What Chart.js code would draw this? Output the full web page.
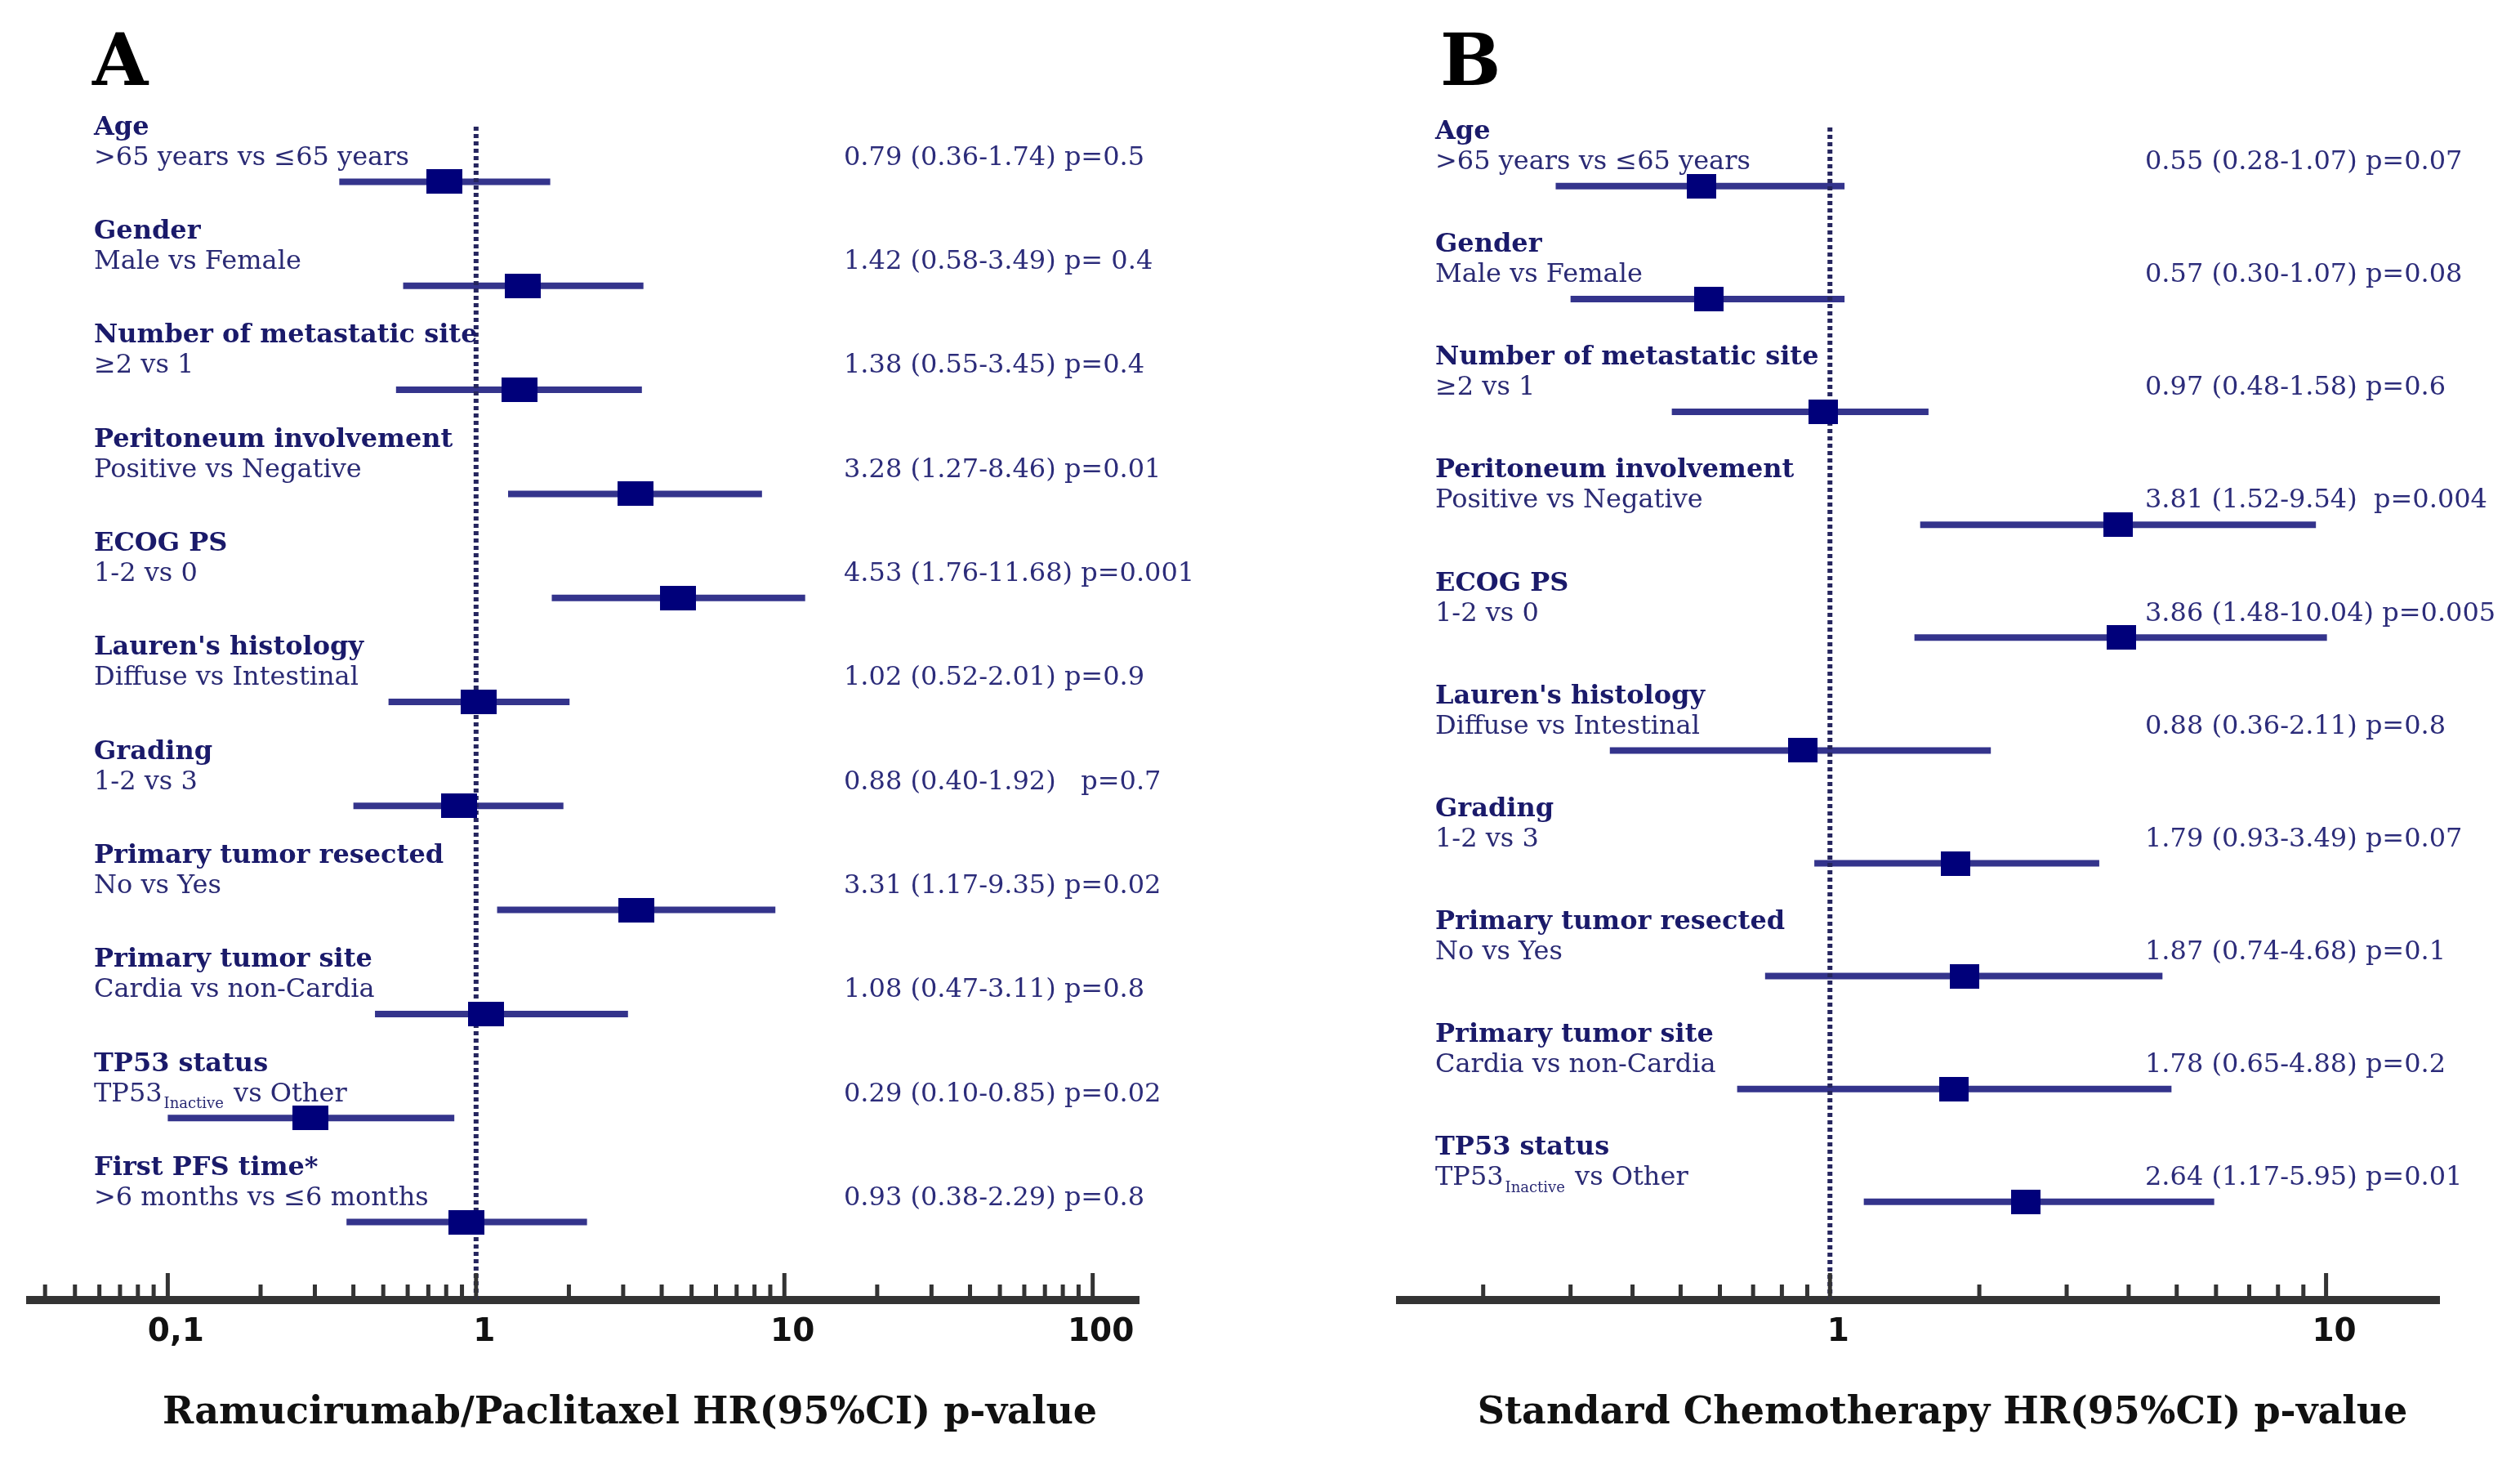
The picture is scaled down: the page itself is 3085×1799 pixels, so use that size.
<!DOCTYPE html>
<html>
<head>
<meta charset="utf-8">
<script src="https://cdn.jsdelivr.net/npm/chart.js@4.4.1/dist/chart.umd.min.js"></script>
<style>
  body { margin: 0; background: #fff; width: 3085px; height: 1799px; position: relative; overflow: hidden; }
  .panel { position: absolute; top: 0; height: 1799px; }
  #wrapA { left: 0; width: 1540px; }
  #wrapB { left: 1540px; width: 1545px; }
</style>
</head>
<body>
<div class="panel" id="wrapA"><canvas id="chartA"></canvas></div>
<div class="panel" id="wrapB"><canvas id="chartB"></canvas></div>
<script>
// ---- Painel A: Ramucirumab/Paclitaxel ----
const variablesA = ['Age', 'Gender', 'Number of metastatic site', 'Peritoneum involvement', 'ECOG PS',
  "Lauren's histology", 'Grading', 'Primary tumor resected', 'Primary tumor site', 'TP53 status', 'First PFS time*'];
const comparisonsA = ['>65 years vs ≤65 years', 'Male vs Female', '≥2 vs 1', 'Positive vs Negative', '1-2 vs 0',
  'Diffuse vs Intestinal', '1-2 vs 3', 'No vs Yes', 'Cardia vs non-Cardia', 'TP53_Inactive vs Other', '>6 months vs ≤6 months'];
const hrA = [0.79, 1.42, 1.38, 3.28, 4.53, 1.02, 0.88, 3.31, 1.08, 0.29, 0.93];
const lowA = [0.36, 0.58, 0.55, 1.27, 1.76, 0.52, 0.40, 1.17, 0.47, 0.10, 0.38];
const highA = [1.74, 3.49, 3.45, 8.46, 11.68, 2.01, 1.92, 9.35, 3.11, 0.85, 2.29];
const statsA = ['0.79 (0.36-1.74) p=0.5', '1.42 (0.58-3.49) p= 0.4', '1.38 (0.55-3.45) p=0.4', '3.28 (1.27-8.46) p=0.01',
  '4.53 (1.76-11.68) p=0.001', '1.02 (0.52-2.01) p=0.9', '0.88 (0.40-1.92)   p=0.7', '3.31 (1.17-9.35) p=0.02',
  '1.08 (0.47-3.11) p=0.8', '0.29 (0.10-0.85) p=0.02', '0.93 (0.38-2.29) p=0.8'];
const majorTicksA = [0.1, 1, 10, 100];
const tickLabelsA = ['0,1', '1', '10', '100'];

// ---- Painel B: Standard Chemotherapy ----
const variablesB = ['Age', 'Gender', 'Number of metastatic site', 'Peritoneum involvement', 'ECOG PS',
  "Lauren's histology", 'Grading', 'Primary tumor resected', 'Primary tumor site', 'TP53 status'];
const comparisonsB = ['>65 years vs ≤65 years', 'Male vs Female', '≥2 vs 1', 'Positive vs Negative', '1-2 vs 0',
  'Diffuse vs Intestinal', '1-2 vs 3', 'No vs Yes', 'Cardia vs non-Cardia', 'TP53_Inactive vs Other'];
const hrB = [0.55, 0.57, 0.97, 3.81, 3.86, 0.88, 1.79, 1.87, 1.78, 2.48];
const lowB = [0.28, 0.30, 0.48, 1.52, 1.48, 0.36, 0.93, 0.74, 0.65, 1.17];
const highB = [1.07, 1.07, 1.58, 9.54, 10.04, 2.11, 3.49, 4.68, 4.88, 5.95];
const statsB = ['0.55 (0.28-1.07) p=0.07', '0.57 (0.30-1.07) p=0.08', '0.97 (0.48-1.58) p=0.6', '3.81 (1.52-9.54)  p=0.004',
  '3.86 (1.48-10.04) p=0.005', '0.88 (0.36-2.11) p=0.8', '1.79 (0.93-3.49) p=0.07', '1.87 (0.74-4.68) p=0.1',
  '1.78 (0.65-4.88) p=0.2', '2.64 (1.17-5.95) p=0.01'];
const majorTicksB = [1, 10];
const tickLabelsB = ['1', '10'];

// cores
const TITLE_COLOR = '#1a1a6a';
const SUB_COLOR = '#2a2a74';
const VALUE_COLOR = '#2c2c7a';
const CI_COLOR = '#34348c';
const MARK_COLOR = '#00007a';
const REF_COLOR = '#25255e';
const AXIS_COLOR = '#333333';
const SERIF = '"DejaVu Serif", serif';

// marcas de escala logaritmica: 1..9 x 10^k
function decadeTicks(minV, maxV) {
  const out = [];
  for (let e = -2; e <= 2; e++) {
    for (let k = 1; k <= 9; k++) {
      const v = +(k * Math.pow(10, e)).toPrecision(6);
      if (v >= minV && v <= maxV) out.push(v);
    }
  }
  return out;
}

function boxMark(w, h) {
  const c = document.createElement('canvas');
  c.width = w; c.height = h;
  const g = c.getContext('2d');
  g.fillStyle = MARK_COLOR;
  g.fillRect(0, 0, w, h);
  return c;
}

function isMajor(v, majors) {
  return majors.some(m => Math.abs(v - m) < 1e-9);
}

// Desenha textos, marcas do eixo e letra do painel
const forestText = {
  id: 'forestText',
  afterDraw(chart) {
    const cfg = chart.options.plugins.forestText;
    const { ctx, chartArea } = chart;
    const xs = chart.scales.x, ys = chart.scales.y;
    ctx.save();

    // marcas do eixo (maiores e menores)
    ctx.fillStyle = AXIS_COLOR;
    xs.ticks.forEach(t => {
      const px = xs.getPixelForValue(t.value);
      const len = isMajor(t.value, cfg.majors) ? 33 : 19;
      ctx.fillRect(px - 2.5, chartArea.bottom - len, 5, len);
    });

    // letra do painel
    ctx.fillStyle = '#000';
    ctx.font = 'bold 88px ' + SERIF;
    ctx.textBaseline = 'alphabetic';
    ctx.textAlign = 'left';
    ctx.fillText(cfg.letter, cfg.letterX, 104);

    // titulo do eixo
    ctx.font = 'bold 46px ' + SERIF;
    ctx.fillStyle = '#111';
    ctx.textAlign = 'center';
    ctx.textBaseline = 'middle';
    ctx.fillText(cfg.axisTitle, cfg.axisTitleX, 1730);

    ctx.textAlign = 'left';
    cfg.variables.forEach((name, i) => {
      const py = ys.getPixelForValue(i);
      ctx.font = 'bold 32px ' + SERIF;
      ctx.fillStyle = TITLE_COLOR;
      ctx.fillText(name, cfg.labelX, py - 66);

      ctx.font = '32px ' + SERIF;
      ctx.fillStyle = SUB_COLOR;
      const comp = cfg.comparisons[i];
      const m = comp.match(/^(\S+)_(\S+)(.*)$/);
      if (m) {
        let x = cfg.labelX;
        ctx.fillText(m[1], x, py - 29);
        x += ctx.measureText(m[1]).width;
        ctx.font = '18px ' + SERIF;
        ctx.fillText(m[2], x + 2, py - 17);
        x += ctx.measureText(m[2]).width + 4;
        ctx.font = '32px ' + SERIF;
        ctx.fillText(m[3], x, py - 29);
      } else {
        ctx.fillText(comp, cfg.labelX, py - 29);
      }

      ctx.fillStyle = VALUE_COLOR;
      ctx.fillText(cfg.stats[i], cfg.valueX, py - 29);
    });
    ctx.restore();
  }
};

function makeForest(canvasId, p) {
  const rows = p.hr.map((v, i) => i);
  const ciSets = rows.map(i => ({
    data: [{ x: p.low[i], y: i }, { x: p.high[i], y: i }],
    showLine: true,
    borderColor: CI_COLOR,
    borderWidth: 8,
    pointRadius: 0,
    order: 2
  }));
  const refLine = {
    data: [{ x: 1, y: p.yMin }, { x: 1, y: p.yMax }],
    showLine: true,
    borderColor: REF_COLOR,
    borderWidth: 6,
    borderDash: [5, 4],
    pointRadius: 0,
    order: 1
  };
  const marks = {
    data: rows.map(i => ({ x: p.hr[i], y: i })),
    pointStyle: boxMark(p.markW, 30),
    pointRadius: 15,
    showLine: false,
    order: 0
  };

  return new Chart(document.getElementById(canvasId), {
    type: 'scatter',
    data: { datasets: [...ciSets, refLine, marks] },
    options: {
      responsive: true,
      maintainAspectRatio: false,
      devicePixelRatio: 1,
      animation: false,
      layout: { padding: p.padding },
      plugins: {
        legend: { display: false },
        tooltip: { enabled: false },
        forestText: {
          letter: p.letter, letterX: p.letterX,
          axisTitle: p.axisTitle, axisTitleX: p.axisTitleX,
          variables: p.variables, comparisons: p.comparisons, stats: p.stats,
          labelX: p.labelX, valueX: p.valueX, majors: p.majors
        }
      },
      scales: {
        x: {
          type: 'logarithmic',
          min: p.xMin,
          max: p.xMax,
          afterBuildTicks: s => { s.ticks = decadeTicks(p.xMin, p.xMax).map(v => ({ value: v, major: isMajor(v, p.majors) })); },
          afterFit: s => { s.height = 208; },
          grid: { display: true, drawOnChartArea: false, drawTicks: false },
          border: { display: true, color: AXIS_COLOR, width: 10 },
          ticks: {
            autoSkip: false,
            maxRotation: 0,
            padding: 16,
            labelOffset: 10,
            color: '#111',
            font: { family: 'DejaVu Sans', weight: 'bold', size: 39 },
            callback: v => {
              const k = p.majors.findIndex(m => Math.abs(v - m) < 1e-9);
              return k >= 0 ? p.tickLabels[k] : '';
            }
          }
        },
        y: { type: 'linear', display: false, reverse: true, min: p.yMin, max: p.yMax }
      }
    },
    plugins: [forestText]
  });
}

makeForest('chartA', {
  hr: hrA, low: lowA, high: highA, variables: variablesA, comparisons: comparisonsA, stats: statsA,
  majors: majorTicksA, tickLabels: tickLabelsA,
  xMin: 0.0358, xMax: 141, yMin: -0.53, yMax: 10.75,
  padding: { left: 37, right: 146, top: 155, bottom: 0 },
  markW: 44, letter: 'A', letterX: 113,
  axisTitle: 'Ramucirumab/Paclitaxel HR(95%CI) p-value', axisTitleX: 771,
  labelX: 115, valueX: 1033
});

makeForest('chartB', {
  hr: hrB, low: lowB, high: highB, variables: variablesB, comparisons: comparisonsB, stats: statsB,
  majors: majorTicksB, tickLabels: tickLabelsB,
  xMin: 0.136, xMax: 16.9, yMin: -0.52, yMax: 9.87,
  padding: { left: 174, right: 99, top: 156, bottom: 0 },
  markW: 36, letter: 'B', letterX: 223,
  axisTitle: 'Standard Chemotherapy HR(95%CI) p-value', axisTitleX: 838,
  labelX: 217, valueX: 1086
});
</script>
</body>
</html>
